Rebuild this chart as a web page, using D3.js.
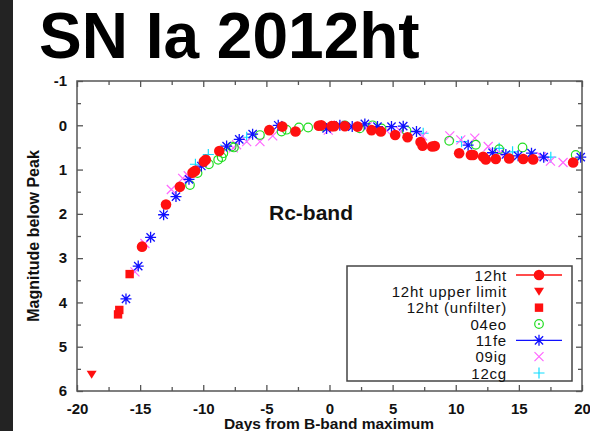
<!DOCTYPE html>
<html><head><meta charset="utf-8">
<script src="https://cdn.jsdelivr.net/npm/d3@7"></script>
<style>body{margin:0;background:#fff;} svg{display:block;font-family:"Liberation Sans",Arial,Helvetica,sans-serif;}</style>
</head><body><svg id="c" width="590" height="431"></svg>
<script>
const xTicks = [-20,-15,-10,-5,0,5,10,15,20];
const yTicks = [-1,0,1,2,3,4,5,6];
const legendLabels = ["12ht","12ht upper limit","12ht (unfilter)","04eo","11fe","09ig","12cg"];

const sn12ht = [[-14.85,2.74],[-12.95,1.79],[-11.85,1.39],[-10.85,1.07],[-10.65,1.03],[-9.95,0.82],[-9.8,0.78],[-8.73,0.58],[-4.77,0.11],[-3.74,0.03],[-2.69,0.14],[-0.85,0.01],[-0.65,0.0],[0.17,0.02],[0.37,0.02],[1.22,0.02],[2.22,0.03],[3.33,0.11],[4.07,0.14],[5.2,0.22],[6.18,0.27],[7.21,0.38],[7.37,0.46],[8.13,0.48],[8.34,0.47],[10.27,0.63],[11.2,0.67],[11.38,0.67],[12.17,0.71],[12.38,0.77],[13.17,0.76],[14.23,0.75],[15.34,0.76],[16.13,0.77],[19.3,0.84]];
const sn12htUpper = [[-18.84,5.62]];
const sn12htUnfilter = [[-16.75,4.27],[-16.65,4.17],[-15.83,3.36]];
const sn04eo = [[-11.05,1.35],[-10.45,1.08],[-9.55,0.88],[-8.82,0.78],[-8.54,0.72],[-8.41,0.63],[-7.75,0.48],[-7.57,0.5],[-5.51,0.22],[-3.8,0.14],[-3.4,0.1],[-2.42,0.05],[-1.69,0.05],[-0.5,0.03],[1.22,0.0],[2.4,0.07],[3.41,0.0],[4.12,0.07],[6.1,0.12],[9.48,0.35],[11.59,0.44],[13.44,0.54],[15.29,0.5],[19.5,0.67]];
const sn11fe = [[-16.12,3.92],[-15.15,3.18],[-14.17,2.53],[-13.14,2.02],[-12.16,1.61],[-11.13,1.22],[-10.15,0.92],[-8.15,0.47],[-7.15,0.32],[-6.09,0.2],[-4.06,0.0],[-0.23,0.07],[0.82,0.0],[1.8,0.03],[2.8,-0.03],[3.8,0.03],[4.91,0.03],[5.84,0.02],[6.89,0.14],[10.98,0.45],[12.91,0.62],[13.97,0.66],[14.94,0.69],[16.0,0.63],[16.97,0.72],[19.9,0.72]];
const sn09ig = [[-15.41,3.31],[-14.62,2.67],[-12.53,1.45],[-11.63,1.2],[-11.19,1.14],[-7.62,0.51],[-7.36,0.44],[-6.56,0.37],[-5.51,0.37],[-4.5,0.24],[-0.1,0.11],[0.69,0.0],[2.98,0.03],[4.52,0.12],[5.65,0.14],[7.37,0.24],[9.53,0.24],[10.4,0.33],[11.51,0.29],[12.57,0.48],[13.49,0.63],[15.73,0.75],[16.79,0.71],[17.5,0.81],[18.5,0.84]];
const sn12cg = [[-10.62,0.88],[-9.6,0.66],[-8.6,0.56],[-6.56,0.27],[7.42,0.18],[10.46,0.37],[13.44,0.52],[14.5,0.6],[17.53,0.72]];

const svg = d3.select("#c");
const L = 77, R = 582, T = 81, B = 391;
const x = d3.scaleLinear().domain([-20,20]).range([L,R]);
const y = d3.scaleLinear().domain([-1,6]).range([T,B]);

// left dark strip
svg.append("rect").attr("x",0).attr("y",0).attr("width",13).attr("height",431).attr("fill","#232323");

// title
svg.append("text").attr("x",39).attr("y",58).attr("font-size",64).attr("font-weight","bold")
  .attr("fill","#000").text("SN Ia 2012ht");

const frameCol = "#555";
const txtCol = "#111";

const xMinor = d3.range(-20,20.01,2.5);
const yMinor = d3.range(-1,6.01,0.5);
function tickLen(v, step){ return Math.abs(v/step - Math.round(v/step))<1e-6 ? 6 : 4; }

const gxB = svg.append("g").attr("transform",`translate(0,${B})`)
  .call(d3.axisBottom(x).tickValues(xMinor).tickSize(0).tickFormat(""));
gxB.select(".domain").remove();
gxB.selectAll(".tick line").attr("y2",d=>-tickLen(d,5)).attr("stroke",frameCol).attr("stroke-width",1.3);
const gxT = svg.append("g").attr("transform",`translate(0,${T})`)
  .call(d3.axisTop(x).tickValues(xMinor).tickSize(0).tickFormat(""));
gxT.select(".domain").remove();
gxT.selectAll(".tick line").attr("y2",d=>tickLen(d,5)).attr("stroke",frameCol).attr("stroke-width",1.3);
const gyL = svg.append("g").attr("transform",`translate(${L},0)`)
  .call(d3.axisLeft(y).tickValues(yMinor).tickSize(0).tickFormat(""));
gyL.select(".domain").remove();
gyL.selectAll(".tick line").attr("x2",d=>tickLen(d,1)).attr("stroke",frameCol).attr("stroke-width",1.3);
const gyR = svg.append("g").attr("transform",`translate(${R},0)`)
  .call(d3.axisRight(y).tickValues(yMinor).tickSize(0).tickFormat(""));
gyR.select(".domain").remove();
gyR.selectAll(".tick line").attr("x2",d=>-tickLen(d,1)).attr("stroke",frameCol).attr("stroke-width",1.3);

// tick labels
const xl = svg.append("g").attr("transform",`translate(0,${B})`)
  .call(d3.axisBottom(x).tickValues(xTicks).tickSize(0).tickPadding(12).tickFormat(d=>d));
xl.select(".domain").remove();
xl.selectAll("text").attr("font-size",15).attr("font-weight","bold").attr("fill",txtCol)
  .attr("font-family","Liberation Sans, Arial, sans-serif");
const yl = svg.append("g").attr("transform",`translate(${L},0)`)
  .call(d3.axisLeft(y).tickValues(yTicks).tickSize(0).tickPadding(10).tickFormat(d=>d));
yl.select(".domain").remove();
yl.selectAll("text").attr("font-size",15).attr("font-weight","bold").attr("fill",txtCol)
  .attr("font-family","Liberation Sans, Arial, sans-serif");

// axis titles
svg.append("text").attr("x",329).attr("y",429).attr("text-anchor","middle")
  .attr("font-size",15.5).attr("font-weight","bold").attr("fill",txtCol).text("Days from B-band maximum");
svg.append("text").attr("transform","translate(39,236) rotate(-90)").attr("text-anchor","middle")
  .attr("font-size",16).attr("font-weight","bold").attr("fill",txtCol).text("Magnitude below Peak");

// Rc-band label
svg.append("text").attr("x",269).attr("y",220).attr("font-size",21).attr("font-weight","bold")
  .attr("fill",txtCol).text("Rc-band");

// marker drawers
const C = {red:"#ff1010", green:"#22dd22", blue:"#1010ff", mag:"#ff66ff", cyan:"#11ddff"};
function circleF(g, px, py){ g.append("circle").attr("cx",px).attr("cy",py).attr("r",5.3).attr("fill",C.red); }
function tri(g, px, py){ const s=5; g.append("path").attr("d",`M${px-s},${py-s*0.7}L${px+s},${py-s*0.7}L${px},${py+s*0.9}Z`).attr("fill",C.red); }
function square(g, px, py){ const s=4.2; g.append("rect").attr("x",px-s).attr("y",py-s).attr("width",2*s).attr("height",2*s).attr("fill",C.red); }
function ring(g, px, py, dot){ g.append("circle").attr("cx",px).attr("cy",py).attr("r",4.3).attr("fill","none").attr("stroke",C.green).attr("stroke-width",1.2);
  if(dot) g.append("circle").attr("cx",px).attr("cy",py).attr("r",1).attr("fill",C.green); }
function star(g, px, py){ const s=5.5, d=s*0.75;
  g.append("path").attr("d",`M${px-s},${py}H${px+s}M${px},${py-s}V${py+s}M${px-d},${py-d}L${px+d},${py+d}M${px-d},${py+d}L${px+d},${py-d}`)
   .attr("stroke",C.blue).attr("stroke-width",1.3).attr("fill","none"); }
function cross(g, px, py){ const s=4.5;
  g.append("path").attr("d",`M${px-s},${py-s}L${px+s},${py+s}M${px-s},${py+s}L${px+s},${py-s}`)
   .attr("stroke",C.mag).attr("stroke-width",1.2).attr("fill","none"); }
function plus(g, px, py){ const s=5.5;
  g.append("path").attr("d",`M${px-s},${py}H${px+s}M${px},${py-s}V${py+s}`)
   .attr("stroke",C.cyan).attr("stroke-width",1.2).attr("fill","none"); }

const plot = svg.append("g");
const series = [
  [sn12cg, plus],[sn09ig, cross],[sn04eo, (g,a,b)=>ring(g,a,b,false)],[sn11fe, star],
  [sn12htUpper, tri],[sn12htUnfilter, square],[sn12ht, circleF]
];
series.forEach(([data, fn]) => data.forEach(d => fn(plot, x(d[0]), y(d[1]))));

// frame
svg.append("rect").attr("x",L).attr("y",T).attr("width",R-L).attr("height",B-T)
  .attr("fill","none").attr("stroke",frameCol).attr("stroke-width",1.5);

// legend
const lg = svg.append("g");
lg.append("rect").attr("x",347).attr("y",266).attr("width",225).attr("height",115)
  .attr("fill","#fff").attr("stroke","#444").attr("stroke-width",1.5);
const rowY = d3.scalePoint().domain(legendLabels).range([275,373]);
const legFns = [circleF, tri, square, (g,a,b)=>ring(g,a,b,true), star, cross, plus];
legendLabels.forEach((lab,i) => {
  const yy = rowY(lab);
  lg.append("text").attr("x",507).attr("y",yy+5.5).attr("text-anchor","end")
    .attr("font-size",15).attr("letter-spacing","0.8px").attr("fill",txtCol).text(lab);
  if (i===0) lg.append("line").attr("x1",516).attr("x2",562).attr("y1",yy).attr("y2",yy).attr("stroke",C.red).attr("stroke-width",1.3);
  if (i===4) lg.append("line").attr("x1",516).attr("x2",562).attr("y1",yy).attr("y2",yy).attr("stroke",C.blue).attr("stroke-width",1.3);
  legFns[i](lg, 539, yy);
});
</script></body></html>
